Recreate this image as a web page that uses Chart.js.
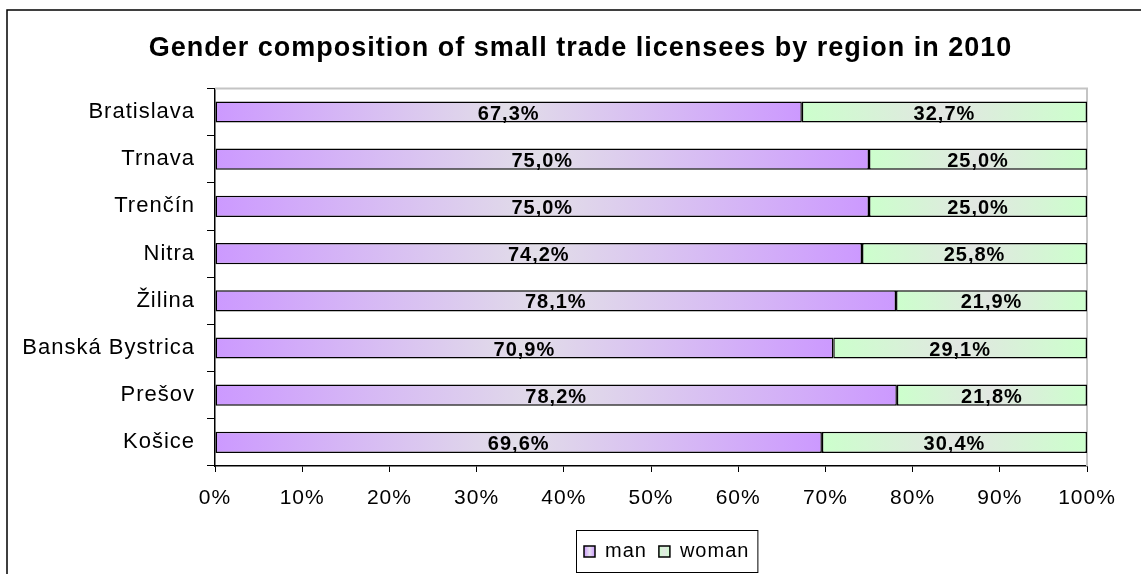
<!DOCTYPE html>
<html>
<head>
<meta charset="utf-8">
<script src="https://cdn.jsdelivr.net/npm/chart.js@4.4.1/dist/chart.umd.min.js"></script>
<style>
    html, body { margin: 0; padding: 0; background: #fff; }
    #wrap { width: 1141px; height: 574px; position: relative; }
</style>
</head>
<body>
<div id="wrap"><canvas id="genderChart"></canvas></div>
<script>
const REGIONS = ['Bratislava', 'Trnava', 'Trenčín', 'Nitra', 'Žilina', 'Banská Bystrica', 'Prešov', 'Košice'];
const MAN     = [67.3, 75.0, 75.0, 74.2, 78.1, 70.9, 78.2, 69.6];
const WOMAN   = [32.7, 25.0, 25.0, 25.8, 21.9, 29.1, 21.8, 30.4];
const X_TICKS = [0, 10, 20, 30, 40, 50, 60, 70, 80, 90, 100];

const FONT = "'Liberation Sans', Arial, sans-serif";

// edge colour -> grey in the middle -> edge colour, spread over the one bar
function barGradient(edge, mid)
{
    return ctx => {
        const chart = ctx.chart;
        if (!chart.chartArea || ctx.dataIndex === undefined) return edge;

        const i = ctx.dataIndex;
        const start = ctx.datasetIndex === 0 ? 0 : MAN[i];
        const end = start + (ctx.datasetIndex === 0 ? MAN[i] : WOMAN[i]);
        const x0 = chart.scales.x.getPixelForValue(start);
        const x1 = chart.scales.x.getPixelForValue(end);

        const g = chart.ctx.createLinearGradient(x0, 0, x1, 0);
        g.addColorStop(0, edge);
        g.addColorStop(0.5, mid);
        g.addColorStop(1, edge);
        return g;
    };
}

// slightly wider text everywhere (canvas resize resets the context, so set it again before drawing)
const spacing = {
    id: 'spacing',
    beforeLayout(chart) { chart.ctx.letterSpacing = '1px'; },
    beforeDraw(chart) { chart.ctx.letterSpacing = '1px'; }
};

// title sits a little right of the canvas centre
const titleShift = {
    id: 'titleShift',
    afterLayout(chart) {
        const t = chart.titleBlock;
        if (!t) return;
        t.left += 27;
        t.right += 27;
    }
};

const framePlugin = {
    id: 'frame',
    beforeDraw(chart) {
        const c = chart.ctx;
        c.save();
        c.strokeStyle = '#000';
        c.lineWidth = 1.5;
        c.strokeRect(7, 10, 1300, 700);
        c.restore();
    },
    beforeDatasetsDraw(chart) {
        const { ctx: c, chartArea: a } = chart;
        c.save();
        c.strokeStyle = '#c4c4c4';
        c.lineWidth = 2;
        c.beginPath();
        c.moveTo(a.left, a.top);
        c.lineTo(a.right, a.top);
        c.lineTo(a.right, a.bottom);
        c.stroke();
        c.restore();
    }
};

const valueLabels = {
    id: 'valueLabels',
    afterDatasetsDraw(chart) {
        const c = chart.ctx;
        c.save();
        c.font = `bold 20px ${FONT}`;
        c.fillStyle = '#000';
        c.textAlign = 'center';
        c.textBaseline = 'middle';
        chart.data.datasets.forEach((ds, di) => {
            chart.getDatasetMeta(di).data.forEach((bar, i) => {
                const txt = ds.data[i].toFixed(1).replace('.', ',') + '%';
                c.fillText(txt, (bar.x + bar.base) / 2, bar.y + 2);
            });
        });
        c.restore();
    }
};

const boxLegend = {
    id: 'boxLegend',
    afterDraw(chart) {
        const c = chart.ctx;
        const items = [
            { text: 'man',   edge: '#cc99ff', mid: '#e6e0ee' },
            { text: 'woman', edge: '#ccffcc', mid: '#e3e8e3' }
        ];
        c.save();
        c.font = `20px ${FONT}`;
        c.textBaseline = 'middle';

        const sw = 11, gapSw = 10, gapItem = 12, padX = 8;
        let total = padX * 2;
        items.forEach((it, k) => {
            total += sw + gapSw + c.measureText(it.text).width + (k ? gapItem : 0);
        });

        const left = 576, top = 530, h = 42;
        c.strokeStyle = '#000';
        c.lineWidth = 1;
        c.strokeRect(left + 0.5, top + 0.5, total, h);

        let x = left + padX;
        const cy = top + h / 2 + 0.5;
        items.forEach(it => {
            const g = c.createLinearGradient(x, 0, x + sw, 0);
            g.addColorStop(0, it.edge);
            g.addColorStop(0.5, it.mid);
            g.addColorStop(1, it.edge);
            c.fillStyle = g;
            c.fillRect(x, cy - sw / 2, sw, sw);
            c.lineWidth = 1.5;
            c.strokeRect(x, cy - sw / 2, sw, sw);
            x += sw + gapSw;
            c.fillStyle = '#000';
            c.fillText(it.text, x, cy);
            x += c.measureText(it.text).width + gapItem;
        });
        c.restore();
    }
};

new Chart(document.getElementById('genderChart'), {
    type: 'bar',
    data: {
        labels: REGIONS,
        datasets: [
            {
                label: 'man',
                data: MAN,
                backgroundColor: barGradient('#cc99ff', '#e2dee8'),
                borderColor: '#000',
                borderWidth: 1.5,
                borderSkipped: false
            },
            {
                label: 'woman',
                data: WOMAN,
                backgroundColor: barGradient('#ccffcc', '#e2e6e2'),
                borderColor: '#000',
                borderWidth: 1.5,
                borderSkipped: false
            }
        ]
    },
    options: {
        indexAxis: 'y',
        responsive: true,
        maintainAspectRatio: false,
        animation: false,
        categoryPercentage: 1,
        barPercentage: 0.45,
        layout: { padding: { left: 20, right: 54, top: 10, bottom: 0 } },
        plugins: {
            legend: { display: false },
            tooltip: { enabled: false },
            title: {
                display: true,
                text: 'Gender composition of small trade licensees by region in 2010',
                color: '#000',
                font: { family: FONT, size: 27, weight: 'bold', lineHeight: 1.2 },
                padding: { top: 22, bottom: 24 }
            }
        },
        scales: {
            x: {
                stacked: true,
                min: 0,
                max: 100,
                afterBuildTicks: s => { s.ticks = X_TICKS.map(v => ({ value: v })); },
                afterFit: s => { s.height = 108; },
                ticks: {
                    color: '#000',
                    font: { family: FONT, size: 21 },
                    padding: 14,
                    maxRotation: 0,
                    callback: v => v + '%'
                },
                grid: { drawOnChartArea: false, drawTicks: true, tickLength: 6, color: '#000' },
                border: { display: true, color: '#000', width: 1.5 }
            },
            y: {
                stacked: true,
                afterFit: s => { s.width = 195; },
                ticks: {
                    color: '#000',
                    font: { family: FONT, size: 22 },
                    padding: 12
                },
                grid: { drawOnChartArea: false, drawTicks: true, tickLength: 8, color: '#000', offset: true },
                border: { display: true, color: '#000', width: 1.5 }
            }
        }
    },
    plugins: [spacing, titleShift, framePlugin, valueLabels, boxLegend]
});
</script>
</body>
</html>
